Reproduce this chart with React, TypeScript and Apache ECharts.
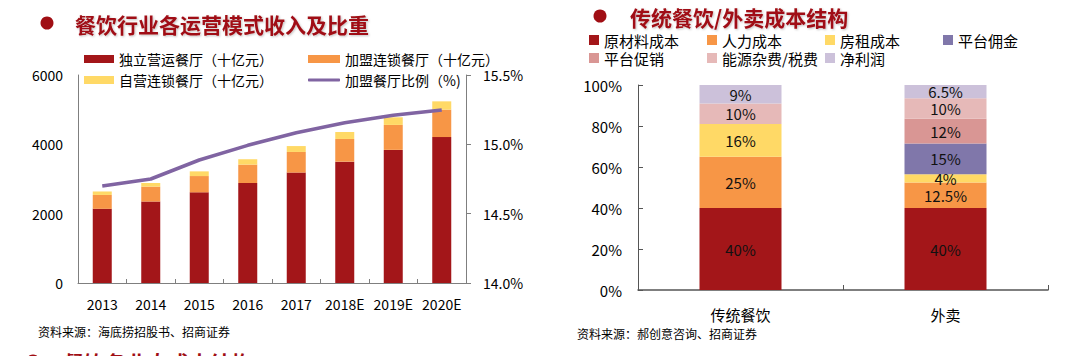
import React, { useEffect, useRef } from "react";
import * as echarts from "echarts";

const years = ["2013", "2014", "2015", "2016", "2017", "2018E", "2019E", "2020E"];
const independent = [2140, 2350, 2615, 2885, 3185, 3500, 3840, 4210];
const franchise = [400, 430, 470, 530, 595, 655, 720, 790];
const selfChain = [100, 105, 135, 155, 170, 200, 220, 240];
const franchiseRatio = [14.7, 14.75, 14.887, 14.993, 15.084, 15.156, 15.209, 15.248];

const leftNames = ["独立营运餐厅（十亿元）", "加盟连锁餐厅（十亿元）", "自营连锁餐厅（十亿元）", "加盟餐厅比例（%)"];

const costCats = ["传统餐饮", "外卖"];
const costNames = ["原材料成本", "人力成本", "房租成本", "平台佣金", "平台促销", "能源杂费/税费", "净利润"];
const rawMaterial = [40, 40];
const labor = [25, 12.5];
const rent = [16, 4];
const commission = [0, 15];
const promotion = [0, 12];
const energyTax = [10, 10];
const netProfit = [9, 6.5];
const costValues = [rawMaterial, labor, rent, commission, promotion, energyTax, netProfit];
const costColors = ["#A31619", "#F79646", "#FFD966", "#8077AA", "#D99694", "#E6B9B8", "#CCC1DA"];

const FONT = "'Noto Sans CJK SC', 'Noto Sans', sans-serif";
const TITLE_RED = "#A00E14";

export default function App() {
  const ref = useRef<HTMLDivElement>(null);
  useEffect(() => {
    if (!ref.current) return;
    const chart = echarts.init(ref.current, null, { renderer: "svg" });
    const axisLine = { show: true, lineStyle: { color: "#7f7f7f", width: 1 } };
    const txt = { color: "#000", fontFamily: FONT };

    const legendBase = (name: string, left: number, top: number, w: number, h: number, icon: string, extra: any = {}) => ({
      data: [{ name, icon }],
      left,
      top,
      itemWidth: w,
      itemHeight: h,
      itemGap: 0,
      padding: 0,
      textStyle: { ...txt, fontSize: 14 },
      selectedMode: false,
      ...extra,
    });

    const legends: any[] = [
      legendBase(leftNames[0], 84, 52, 30, 8, "rect"),
      legendBase(leftNames[1], 308, 52, 32, 8, "rect"),
      legendBase(leftNames[2], 84, 73, 30, 8, "rect", { backgroundColor: "#fff", padding: [0, 4, 4, 0] }),
      legendBase(leftNames[3], 308, 73, 32, 3, "roundRect", { backgroundColor: "#fff", padding: [0, 4, 4, 0] }),
    ];
    const rxCols = [589, 707, 825, 943];
    costNames.forEach((n, i) => {
      const col = i < 4 ? i : i - 4;
      const row = i < 4 ? 0 : 1;
      legends.push(legendBase(n, rxCols[col], 32 + row * 18, 10, 10, "rect", { textStyle: { ...txt, fontSize: 15, lineHeight: 16 } }));
    });

    const costSeries = costNames.map((n, i) => ({
      name: n,
      type: "bar",
      stack: "cost",
      xAxisIndex: 1,
      yAxisIndex: 2,
      barWidth: "40%",
      data: costValues[i],
      itemStyle: { color: costColors[i] },
      label: {
        show: true,
        position: "inside",
        fontSize: 15,
        lineHeight: 14,
        fontFamily: FONT,
        color: "#111",
        formatter: (p: any) => (p.value > 0 ? p.value + "%" : ""),
      },
    }));

    chart.setOption({
      animation: false,
      legend: legends,
      grid: [
        { left: 78, top: 75, width: 388, height: 208 },
        { left: 638, top: 85, width: 410, height: 205 },
      ],
      xAxis: [
        {
          type: "category",
          gridIndex: 0,
          data: years,
          axisLine,
          axisTick: { show: true, inside: true, length: 4, lineStyle: { color: "#7f7f7f" } },
          axisLabel: { ...txt, fontSize: 14, margin: 14, interval: 0 },
        },
        {
          type: "category",
          gridIndex: 1,
          data: costCats,
          axisLine: { show: true, lineStyle: { color: "#555", width: 1.5 } },
          axisTick: { show: true, inside: true, length: 5, lineStyle: { color: "#555" } },
          axisLabel: { ...txt, fontSize: 15, margin: 17, interval: 0 },
        },
      ],
      yAxis: [
        {
          type: "value",
          gridIndex: 0,
          min: 0,
          max: 6000,
          interval: 2000,
          axisLine,
          axisTick: { show: false },
          splitLine: { show: false },
          axisLabel: { ...txt, fontSize: 14, margin: 15, formatter: (v: number) => String(v) },
        },
        {
          type: "value",
          gridIndex: 0,
          position: "right",
          min: 14.0,
          max: 15.5,
          interval: 0.5,
          axisLine,
          axisTick: { show: true, length: 5, lineStyle: { color: "#7f7f7f" } },
          splitLine: { show: false },
          axisLabel: { ...txt, fontSize: 14, margin: 17, formatter: (v: number) => v.toFixed(1) + "%" },
        },
        {
          type: "value",
          gridIndex: 1,
          min: 0,
          max: 100,
          interval: 20,
          axisLine: { show: true, lineStyle: { color: "#555", width: 1 } },
          axisTick: { show: true, inside: true, length: 5, lineStyle: { color: "#555" } },
          splitLine: { show: false },
          axisLabel: { ...txt, fontSize: 15, margin: 16, formatter: (v: number) => v + "%" },
        },
      ],
      series: [
        { name: leftNames[0], type: "bar", stack: "rev", xAxisIndex: 0, yAxisIndex: 0, barWidth: 19, data: independent, itemStyle: { color: "#A31619" } },
        { name: leftNames[1], type: "bar", stack: "rev", xAxisIndex: 0, yAxisIndex: 0, barWidth: 19, data: franchise, itemStyle: { color: "#F79646" } },
        { name: leftNames[2], type: "bar", stack: "rev", xAxisIndex: 0, yAxisIndex: 0, barWidth: 19, data: selfChain, itemStyle: { color: "#FFD966" } },
        {
          name: leftNames[3],
          type: "line",
          xAxisIndex: 0,
          yAxisIndex: 1,
          data: franchiseRatio,
          showSymbol: false,
          symbol: "none",
          lineStyle: { color: "#8064A2", width: 3.5 },
          itemStyle: { color: "#8064A2" },
          z: 5,
        },
        ...costSeries,
      ],
      graphic: [
        { type: "circle", shape: { cx: 47, cy: 23, r: 6.5 }, style: { fill: TITLE_RED } },
        {
          type: "text",
          x: 75,
          y: 24,
          style: {
            text: "餐饮行业各运营模式收入及比重",
            font: `bold 21px ${FONT}`,
            fill: TITLE_RED,
            textVerticalAlign: "middle",
            textShadowColor: "rgba(0,0,0,0.25)",
            textShadowBlur: 2,
            textShadowOffsetX: 1,
            textShadowOffsetY: 1,
          },
        },
        { type: "circle", shape: { cx: 600, cy: 16, r: 6.5 }, style: { fill: TITLE_RED } },
        {
          type: "text",
          x: 630,
          y: 17,
          style: {
            text: "传统餐饮/外卖成本结构",
            font: `bold 21px ${FONT}`,
            fill: TITLE_RED,
            textVerticalAlign: "middle",
            textShadowColor: "rgba(0,0,0,0.25)",
            textShadowBlur: 2,
            textShadowOffsetX: 1,
            textShadowOffsetY: 1,
          },
        },
        {
          type: "text",
          x: 38,
          y: 331,
          style: { text: "资料来源：海底捞招股书、招商证券", font: `12px ${FONT}`, fill: "#000", textVerticalAlign: "middle" },
        },
        {
          type: "text",
          x: 577,
          y: 333,
          style: { text: "资料来源：郝创意咨询、招商证券", font: `12px ${FONT}`, fill: "#000", textVerticalAlign: "middle" },
        },
        { type: "circle", shape: { cx: 33, cy: 361, r: 6.5 }, style: { fill: TITLE_RED } },
        {
          type: "text",
          x: 63,
          y: 362,
          style: { text: "餐饮各业态成本结构", font: `bold 21px ${FONT}`, fill: TITLE_RED, textVerticalAlign: "middle" },
        },
      ],
    });
    return () => chart.dispose();
  }, []);
  return <div ref={ref} style={{ position: "absolute", left: 0, top: 0, width: 1082, height: 356, background: "#fff" }} />;
}
